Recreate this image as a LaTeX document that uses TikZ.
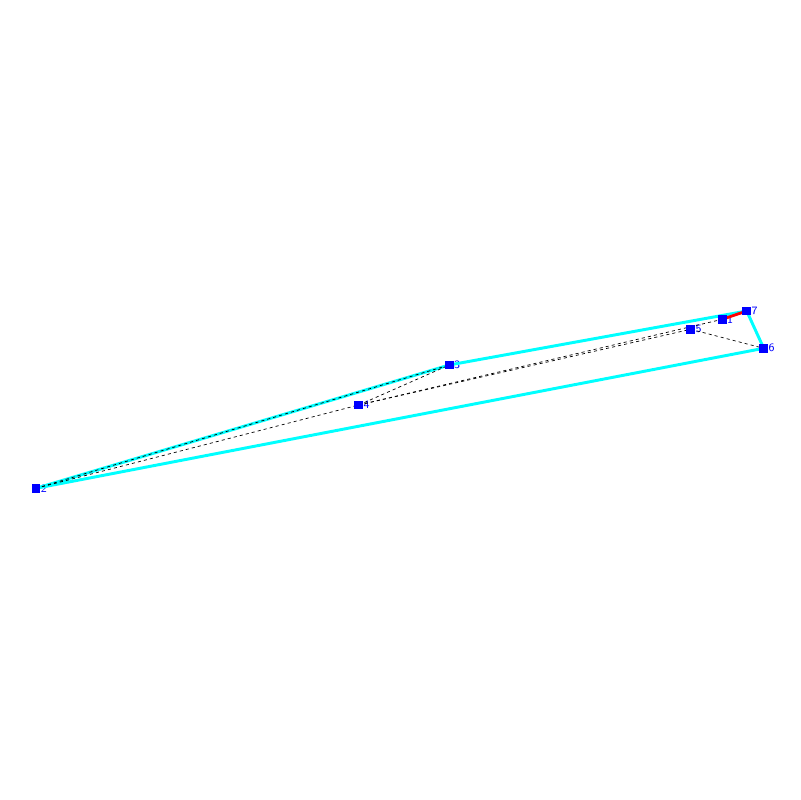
\documentclass[tikz,border=0pt]{standalone}
\usepackage{tikz}
\usetikzlibrary{positioning}
\definecolor{hullcyan}{RGB}{0,255,255}
\definecolor{ptblue}{RGB}{0,0,255}

\begin{document}
\begin{tikzpicture}[x=0.025cm, y=-0.025cm,
		pt/.style={draw=none, minimum size=2mm, inner sep=0pt},
		lbl/.style={text=ptblue, font=\sffamily\footnotesize, inner sep=0.2pt},
		hull/.style={hullcyan, line width=2.1pt},
		link/.style={black, line width=0.5pt, dash pattern=on 2.2pt off 2.2pt}]
		\useasboundingbox (0,0) rectangle (800,800);
		
		\node[pt, label={[lbl]right:1}] (p1) at (722.3,319.3) {};
		\node[pt, label={[lbl]right:2}] (p2) at (36,488.3) {};
		\node[pt, label={[lbl]right:3}] (p3) at (449.3,365) {};
		\node[pt, label={[lbl]right:4}] (p4) at (358.7,405) {};
		\node[pt, label={[lbl]right:5}] (p5) at (690.7,329.3) {};
		\node[pt, label={[lbl]right:6}] (p6) at (763.7,348.3) {};
		\node[pt, label={[lbl]right:7}] (p7) at (746.7,311) {};
		
		\draw[hull] (p7.center) -- (p3.center) -- (p2.center) -- (p6.center) -- cycle;
		
		\draw[link] (p2.center) -- (p3.center);
		\draw[link] (p2.center) -- (p4.center);
		\draw[link] (p4.center) -- (p3.center);
		\draw[link] (p4.center) -- (p5.center);
		\draw[link] (p4.center) -- (p1.center);
		\draw[link] (p5.center) -- (p6.center);
		
		\draw[red, line width=2pt] (p1.center) -- (p7.center);
		
		% the squares go on top of the lines
		\foreach \p in {p1,p2,p3,p4,p5,p6,p7}
			\fill[ptblue] (\p.south west) rectangle (\p.north east);
	\end{tikzpicture}
\end{document}
